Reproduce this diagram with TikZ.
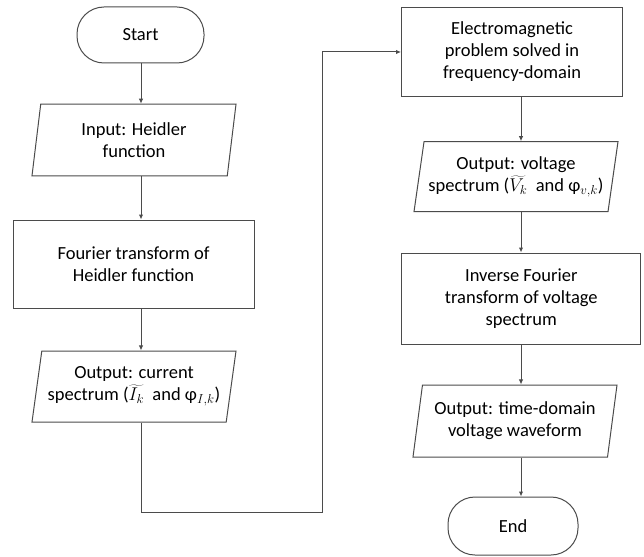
\RequirePackage{fix-cm}
\documentclass[tikz,border=0pt]{standalone}
\usepackage{fontspec}
\setmainfont{Carlito}
\usetikzlibrary{shapes.geometric,arrows.meta}
\definecolor{LineGray}{RGB}{75,75,75}

\begin{document}
\begin{tikzpicture}[x=1pt,y=1pt,
                every node/.style={font=\fontsize{18.5}{22}\selectfont,align=center,text=black},
                term/.style={draw=LineGray,line width=1pt,rounded corners=27pt,minimum width=127pt,minimum height=56pt,inner sep=0pt},
                proc/.style={draw=LineGray,line width=1pt,rectangle,inner sep=0pt},
                io/.style={draw=LineGray,line width=1pt,trapezium,trapezium left angle=76,trapezium right angle=104,trapezium stretches body,minimum width=204pt,inner sep=0pt},
                arr/.style={LineGray,line width=1pt,-{Latex[length=5pt,width=4.5pt]}}
            ]
                \useasboundingbox (0,0) rectangle (644,-556);
                % Arrow columns
                \coordinate (lx) at (141,0);
                \coordinate (rx) at (521,0);
                % Left column
                \node[term] (start) at (140.5,-35) {Start};
                \node[io,minimum height=71.5pt] (input) at (134,-140) {Input: Heidler\\function};
                \node[proc,minimum width=241pt,minimum height=88pt] (fourier) at (133.5,-264) {Fourier transform of\\Heidler function};
                \node[io,minimum height=71pt] (outI) at (134,-386.5) {Output: current\\spectrum ($\widetilde{I_k}$\ \ and φ$_{I,k}$)};
                % Right column
                \node[proc,minimum width=221pt,minimum height=89pt] (em) at (512,-52) {Electromagnetic\\problem solved in\\frequency-domain};
                \node[io,minimum height=70pt] (outV) at (516,-176.7) {Output: voltage\\spectrum ($\widetilde{V_k}$\ \ and φ$_{v,k}$)};
                \node[proc,minimum width=239pt,minimum height=91pt] (inv) at (521.3,-298.5) {Inverse Fourier\\transform of voltage\\spectrum};
                \node[io,minimum height=72pt] (outT) at (515,-421) {Output: time-domain\\voltage waveform};
                \node[term,minimum width=130pt,minimum height=58pt] (end) at (513,-526) {End};
                % Flow
                \draw[arr] (start.south -| lx) -- (input.north -| lx);
                \draw[arr] (input.south -| lx) -- (fourier.north -| lx);
                \draw[arr] (fourier.south -| lx) -- (outI.north -| lx);
                \coordinate (loop) at (322,-512);
                \draw[arr] (outI.south -| lx) |- (loop) |- (em.west);
                \draw[arr] (em.south -| rx) -- (outV.north -| rx);
                \draw[arr] (outV.south -| rx) -- (inv.north -| rx);
                \draw[arr] (inv.south -| rx) -- (outT.north -| rx);
                \draw[arr] (outT.south -| rx) -- (end.north -| rx);
            \end{tikzpicture}
\end{document}
